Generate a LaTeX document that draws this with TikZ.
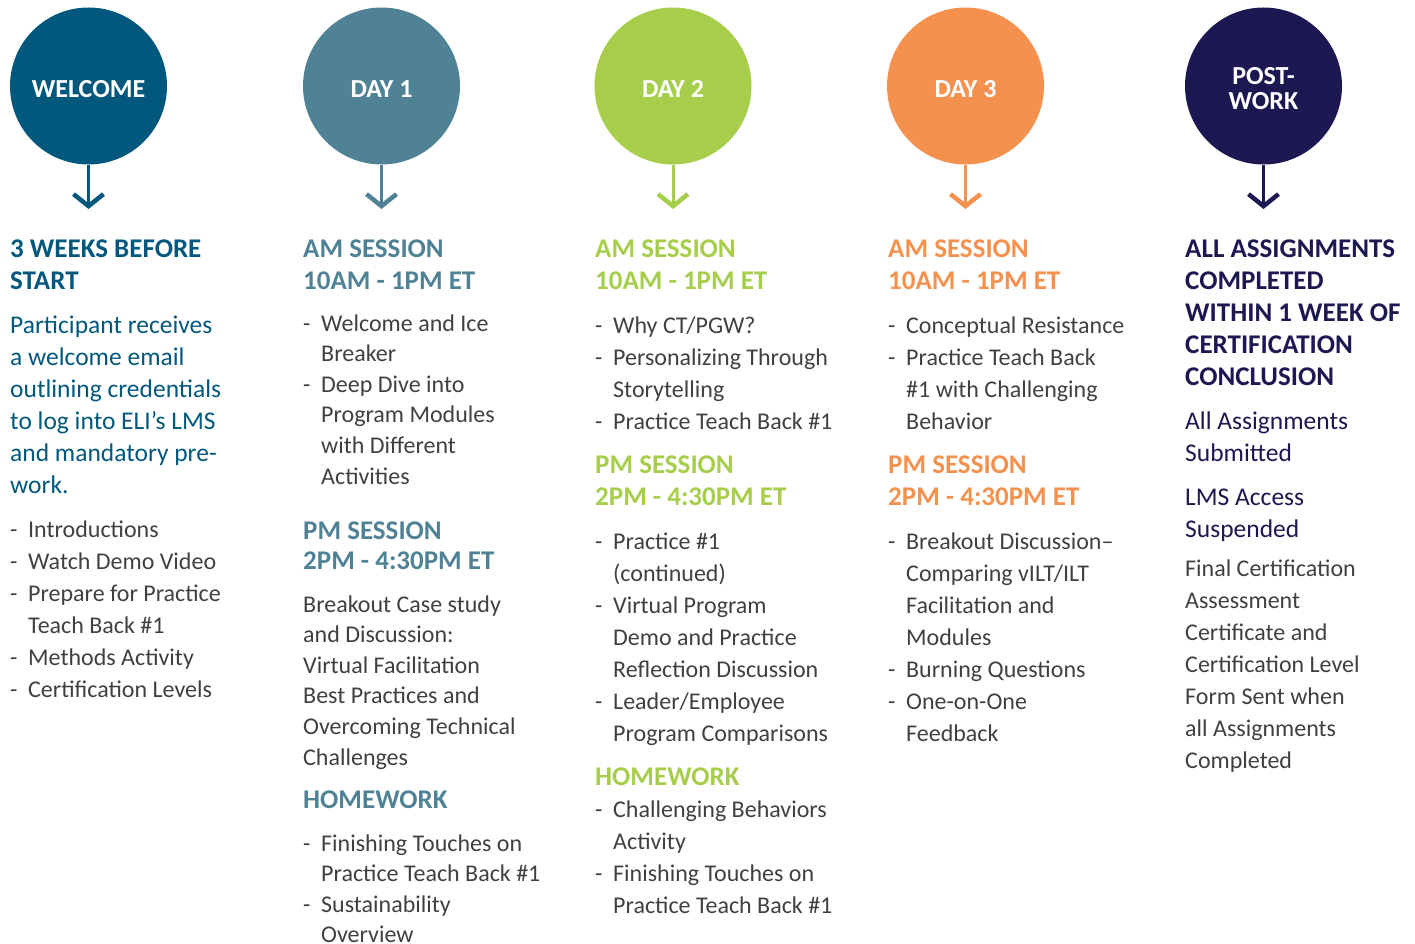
\documentclass[tikz,border=0pt]{standalone}
\usepackage{fontspec}
\setmainfont{Carlito}
\usetikzlibrary{arrows.meta}

\definecolor{welBlue}{HTML}{02587C}
\definecolor{dayOne}{HTML}{508295}
\definecolor{dayTwo}{HTML}{A6CE4A}
\definecolor{dayThree}{HTML}{F4914F}
\definecolor{postNavy}{HTML}{1D1851}
\definecolor{bodyGray}{HTML}{404040}

\newcommand\bl{\makebox[18pt][l]{-}}
\newcommand\ct{\makebox[18pt][l]{}}

\begin{document}
\begin{tikzpicture}[x=1pt,y=-1pt,
    stage/.style={circle,minimum size=157pt,inner sep=0pt,text=white,align=center,
      text height=22.7pt,text depth=0pt,font=\fontsize{26}{25}\selectfont\bfseries},
    drop/.style={line width=3pt,-{Straight Barb[length=12pt,width=30pt,line width=4.5pt]}},
    head/.style={anchor=base west,inner sep=0pt,align=left,font=\fontsize{27}{32}\selectfont\bfseries},
    lead/.style={anchor=base west,inner sep=0pt,align=left,font=\fontsize{25.5}{32}\selectfont},
    body/.style={anchor=base west,inner sep=0pt,align=left,text=bodyGray,font=\fontsize{24}{32}\selectfont}]
  \useasboundingbox (0,0) rectangle (1415,944);
  % (text blocks are anchored at the baseline of their last line)

  % Stage welcome
  \node [stage,fill=welBlue] (welcome) at (88.5,86) {WELCOME};
  \coordinate (welcomeEnd) at (88.5,209);
  \draw [drop,welBlue] (welcome) -- (welcomeEnd);
  \node [head,text=welBlue] (welHead) at (10,289) {3 WEEKS BEFORE\\START};
  \node [lead,text=welBlue] (welLead) at (10,493) {Participant receives\\a welcome email\\outlining credentials\\to log into ELI’s LMS\\and mandatory pre-\\work.};
  \node [body] (welList) at (10,697) {\bl Introductions\\\bl Watch Demo Video\\\bl Prepare for Practice\\\ct Teach Back \#1\\\bl Methods Activity\\\bl Certification Levels};

  % Stage day 1
  \node [stage,fill=dayOne] (dayone) at (381.5,86) {DAY 1};
  \coordinate (dayoneEnd) at (381.5,209);
  \draw [drop,dayOne] (dayone) -- (dayoneEnd);
  \node [head,text=dayOne] (oneAm) at (303,289) {AM SESSION\\10AM - 1PM ET};
  \node [body,font=\fontsize{24}{30.6}\selectfont] (oneAmList) at (303,484) {\bl Welcome and Ice\\\ct Breaker\\\bl Deep Dive into\\\ct Program Modules\\\ct with Different\\\ct Activities};
  \node [head,text=dayOne,font=\fontsize{27}{30}\selectfont\bfseries] (onePm) at (303,569) {PM SESSION\\2PM - 4:30PM ET};
  \node [body,font=\fontsize{24}{30.6}\selectfont] (onePmText) at (303,765) {Breakout Case study\\and Discussion:\\Virtual Facilitation\\Best Practices and\\Overcoming Technical\\Challenges};
  \node [head,text=dayOne] (oneHw) at (303,808) {HOMEWORK};
  \node [body,font=\fontsize{24}{30.3}\selectfont] (oneHwList) at (303,942.4) {\bl Finishing Touches on\\\ct Practice Teach Back \#1\\\bl Sustainability\\\ct Overview};

  % Stage day 2
  \node [stage,fill=dayTwo] (daytwo) at (673,86) {DAY 2};
  \coordinate (daytwoEnd) at (673,209);
  \draw [drop,dayTwo] (daytwo) -- (daytwoEnd);
  \node [head,text=dayTwo] (twoAm) at (595,289) {AM SESSION\\10AM - 1PM ET};
  \node [body] (twoAmList) at (595,429) {\bl Why CT/PGW?\\\bl Personalizing Through\\\ct Storytelling\\\bl Practice Teach Back \#1};
  \node [head,text=dayTwo] (twoPm) at (595,505) {PM SESSION\\2PM - 4:30PM ET};
  \node [body] (twoPmList) at (595,741) {\bl Practice \#1\\\ct (continued)\\\bl Virtual Program\\\ct Demo and Practice\\\ct Reflection Discussion\\\bl Leader/Employee\\\ct Program Comparisons};
  \node [head,text=dayTwo] (twoHw) at (595,785) {HOMEWORK};
  \node [body] (twoHwList) at (595,913) {\bl Challenging Behaviors\\\ct Activity\\\bl Finishing Touches on\\\ct Practice Teach Back \#1};

  % Stage day 3
  \node [stage,fill=dayThree] (daythree) at (965.5,86) {DAY 3};
  \coordinate (daythreeEnd) at (965.5,209);
  \draw [drop,dayThree] (daythree) -- (daythreeEnd);
  \node [head,text=dayThree] (threeAm) at (888,289) {AM SESSION\\10AM - 1PM ET};
  \node [body] (threeAmList) at (888,429) {\bl Conceptual Resistance\\\bl Practice Teach Back\\\ct \#1 with Challenging\\\ct Behavior};
  \node [head,text=dayThree] (threePm) at (888,505) {PM SESSION\\2PM - 4:30PM ET};
  \node [body] (threePmList) at (888,741) {\bl Breakout Discussion–\\\ct Comparing vILT/ILT\\\ct Facilitation and\\\ct Modules\\\bl Burning Questions\\\bl One-on-One\\\ct Feedback};

  % Stage post-work
  \node [stage,fill=postNavy,text height=47.7pt] (postwork) at (1263.5,86) {POST-\\WORK};
  \coordinate (postworkEnd) at (1263.5,209);
  \draw [drop,postNavy] (postwork) -- (postworkEnd);
  \node [head,text=postNavy] (postHead) at (1185,385) {ALL ASSIGNMENTS\\COMPLETED\\WITHIN 1 WEEK OF\\CERTIFICATION\\CONCLUSION};
  \node [lead,text=postNavy] (postDone) at (1185,461) {All Assignments\\Submitted};
  \node [lead,text=postNavy] (postLms) at (1185,537) {LMS Access\\Suspended};
  \node [body] (postText) at (1185,768) {Final Certification\\Assessment\\Certificate and\\Certification Level\\Form Sent when\\all Assignments\\Completed};
\end{tikzpicture}
\end{document}
